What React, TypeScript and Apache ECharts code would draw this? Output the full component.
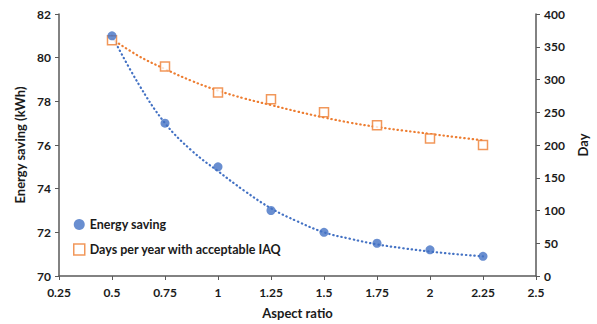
import React, { useEffect, useRef } from "react";
import * as echarts from "echarts";

const aspectRatios = [0.5, 0.75, 1, 1.25, 1.5, 1.75, 2, 2.25];
const energySaving = [81, 77, 75, 73, 72, 71.5, 71.2, 70.9];
const daysAcceptable = [360, 320, 280, 270, 250, 230, 210, 200];

const trendX = [0.5, 0.625, 0.75, 0.875, 1, 1.125, 1.25, 1.375, 1.5, 1.625, 1.75, 1.875, 2, 2.125, 2.25];
const energyTrend = [81.0, 78.8, 77.0, 75.75, 74.8, 73.9, 73.1, 72.5, 72.0, 71.7, 71.45, 71.27, 71.12, 71.0, 70.9];
const daysTrend = [362, 336, 316, 298, 283, 271, 261, 251, 242, 234, 227.5, 222, 217, 212, 207];

const BLUE = "#4472C4";
const ORANGE = "#ED7D31";
const FONT = "Lato";
const TEXT = "#1a1a1a";
const AXIS = "#595959";

export default function App() {
  const ref = useRef<HTMLDivElement>(null);
  useEffect(() => {
    if (!ref.current) return;
    const chart = echarts.init(ref.current, undefined, { renderer: "svg" });
    const labelStyle = { color: TEXT, fontFamily: FONT, fontWeight: "bold" as const, fontSize: 12 };
    chart.setOption({
      animation: false,
      backgroundColor: "#fff",
      grid: { left: 59, right: 58, top: 14, bottom: 47 },
      legend: {
        orient: "vertical",
        left: 68,
        top: 213,
        itemGap: 12,
        itemWidth: 11,
        itemHeight: 11,
        textStyle: { ...labelStyle, fontSize: 12.5 },
        data: [
          { name: "Energy saving", icon: "circle", itemStyle: { color: BLUE } },
          {
            name: "Days per year with acceptable IAQ",
            icon: "rect",
            itemStyle: { color: "#fff", borderColor: ORANGE, borderWidth: 1.5 },
          },
        ],
      },
      xAxis: {
        type: "value",
        min: 0.25,
        max: 2.5,
        interval: 0.25,
        name: "Aspect ratio",
        nameLocation: "middle",
        nameGap: 30,
        nameTextStyle: { ...labelStyle, fontSize: 13 },
        axisLine: { show: true, lineStyle: { color: AXIS, width: 1.5 } },
        axisTick: { show: true, length: 4, inside: false, lineStyle: { color: AXIS } },
        axisLabel: { ...labelStyle, margin: 10 },
        splitLine: { show: false },
      },
      yAxis: [
        {
          type: "value",
          min: 70,
          max: 82,
          interval: 2,
          position: "left",
          name: "Energy saving (kWh)",
          nameLocation: "middle",
          nameGap: 33,
          nameRotate: 90,
          nameTextStyle: { ...labelStyle, fontSize: 13 },
          axisLine: { show: true, lineStyle: { color: AXIS, width: 1.5 } },
          axisTick: { show: true, length: 4, inside: false, lineStyle: { color: AXIS } },
          axisLabel: { ...labelStyle, margin: 8 },
          splitLine: { show: false },
        },
        {
          type: "value",
          min: 0,
          max: 400,
          interval: 50,
          position: "right",
          name: "Day",
          nameLocation: "middle",
          nameGap: 40,
          nameRotate: 90,
          nameTextStyle: { ...labelStyle, fontSize: 13 },
          axisLine: { show: true, lineStyle: { color: AXIS, width: 1.5 } },
          axisTick: { show: true, length: 4, inside: false, lineStyle: { color: AXIS } },
          axisLabel: { ...labelStyle, margin: 8 },
          splitLine: { show: false },
        },
      ],
      series: [
        {
          name: "Energy trend",
          type: "line",
          yAxisIndex: 0,
          smooth: 0.4,
          showSymbol: false,
          silent: true,
          z: 1,
          lineStyle: { color: BLUE, width: 2.2, type: [0.4, 3.8], cap: "round" },
          data: trendX.map((x, i) => [x, energyTrend[i]]),
        },
        {
          name: "Days trend",
          type: "line",
          yAxisIndex: 1,
          smooth: 0.4,
          showSymbol: false,
          silent: true,
          z: 1,
          lineStyle: { color: ORANGE, width: 2.2, type: [0.4, 3.8], cap: "round" },
          data: trendX.map((x, i) => [x, daysTrend[i]]),
        },
        {
          name: "Days per year with acceptable IAQ",
          type: "scatter",
          yAxisIndex: 1,
          symbol: "rect",
          symbolSize: 9,
          z: 3,
          itemStyle: { color: "#fff", borderColor: ORANGE, borderWidth: 1.5 },
          data: aspectRatios.map((x, i) => [x, daysAcceptable[i]]),
        },
        {
          name: "Energy saving",
          type: "scatter",
          yAxisIndex: 0,
          symbol: "circle",
          symbolSize: 9,
          z: 4,
          itemStyle: { color: BLUE },
          data: aspectRatios.map((x, i) => [x, energySaving[i]]),
        },
      ],
    });
    return () => chart.dispose();
  }, []);
  return <div ref={ref} style={{ width: 597, height: 324, position: "absolute", left: 0, top: 0 }} />;
}
